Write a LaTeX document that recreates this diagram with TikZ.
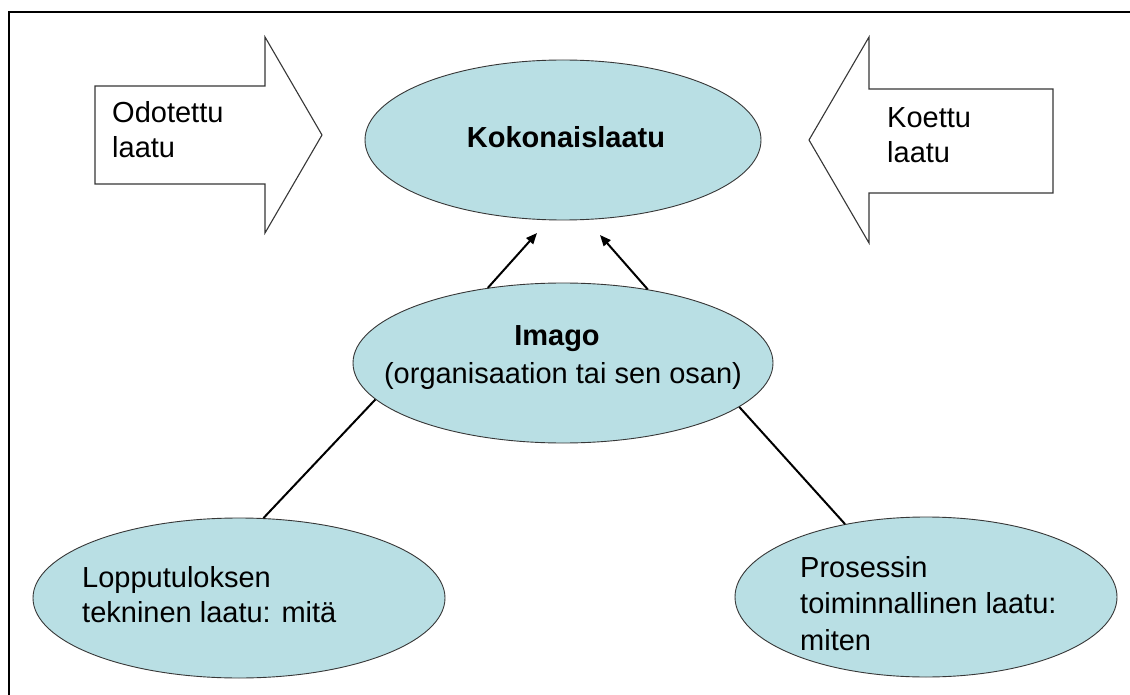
\documentclass[tikz,border=0pt]{standalone}
\usepackage{fontspec}
\setmainfont{Liberation Sans}
\usetikzlibrary{shapes.geometric,arrows.meta}
\definecolor{ovalfill}{RGB}{185,223,228}
\definecolor{edgegray}{RGB}{55,55,55}
\begin{document}
\begin{tikzpicture}[x=1pt,y=-1pt,
  oval/.style={ellipse, draw=edgegray, line width=0.9pt, fill=ovalfill, inner sep=0pt},
  lbl/.style={font=\fontsize{29}{35}\selectfont, inner sep=0pt, align=left},
  blockarrow/.style={draw=edgegray, line width=1.1pt, fill=white, line join=miter},
  link/.style={draw=black, line width=2pt},
  pointer/.style={link, -{Triangle[length=11pt,width=9pt]}}]

\useasboundingbox (0,0) rectangle (1130,695);
\fill[white] (0,0) rectangle (1130,695);
% frame
\draw[line width=2pt] (9,710) -- (9,12) -- (1140,12);

% block arrows feeding the overall quality
\draw[blockarrow] (95,86) -- (265,86) -- (265,37) -- (322,135) -- (265,233)
  -- (265,184) -- (95,184) -- cycle;
\draw[blockarrow] (1053,89) -- (869,89) -- (869,37) -- (809,140) -- (869,243)
  -- (869,193) -- (1053,193) -- cycle;
% multi-line labels are anchored at the baseline of their last line
\node[lbl, anchor=base west] (expected) at (112,158) {Odotettu\\laatu};
\node[lbl, anchor=base west] (experienced) at (887,163) {Koettu\\laatu};

% ovals
\node[oval, minimum width=396pt, minimum height=160pt] (total) at (563,140) {};
\node[oval, minimum width=420pt, minimum height=160pt] (imago) at (563,363) {};
\node[oval, minimum width=412pt, minimum height=160pt] (result) at (239,598) {};
\node[oval, minimum width=382pt, minimum height=160pt] (process) at (926,597) {};

\node[lbl, anchor=base, font=\fontsize{29}{35}\selectfont\bfseries] (totaltxt) at (566,148) {Kokonaislaatu};
\node[lbl, anchor=base, align=center, font=\fontsize{29}{38}\selectfont] (imagotxt) at (563,383)
  {\textbf{Imago}\hspace*{12pt}\\(organisaation tai sen osan)};
\node[lbl, anchor=base west] (resulttxt) at (82,622) {Lopputuloksen\\tekninen laatu: mitä};
\node[lbl, anchor=base west, font=\fontsize{29}{36.5}\selectfont] (processtxt) at (800,650)
  {Prosessin\\toiminnallinen laatu:\\miten};

% connectors
\coordinate (inL) at (537,233);
\coordinate (inR) at (600,235);
\draw[pointer] (imago.135.4) -- (inL);
\draw[pointer] (imago.41.8) -- (inR);
\draw[link] (imago.191.7) -- (result.73.3);
\draw[link] (imago.346.3) -- (process.138.6);
\end{tikzpicture}
\end{document}
